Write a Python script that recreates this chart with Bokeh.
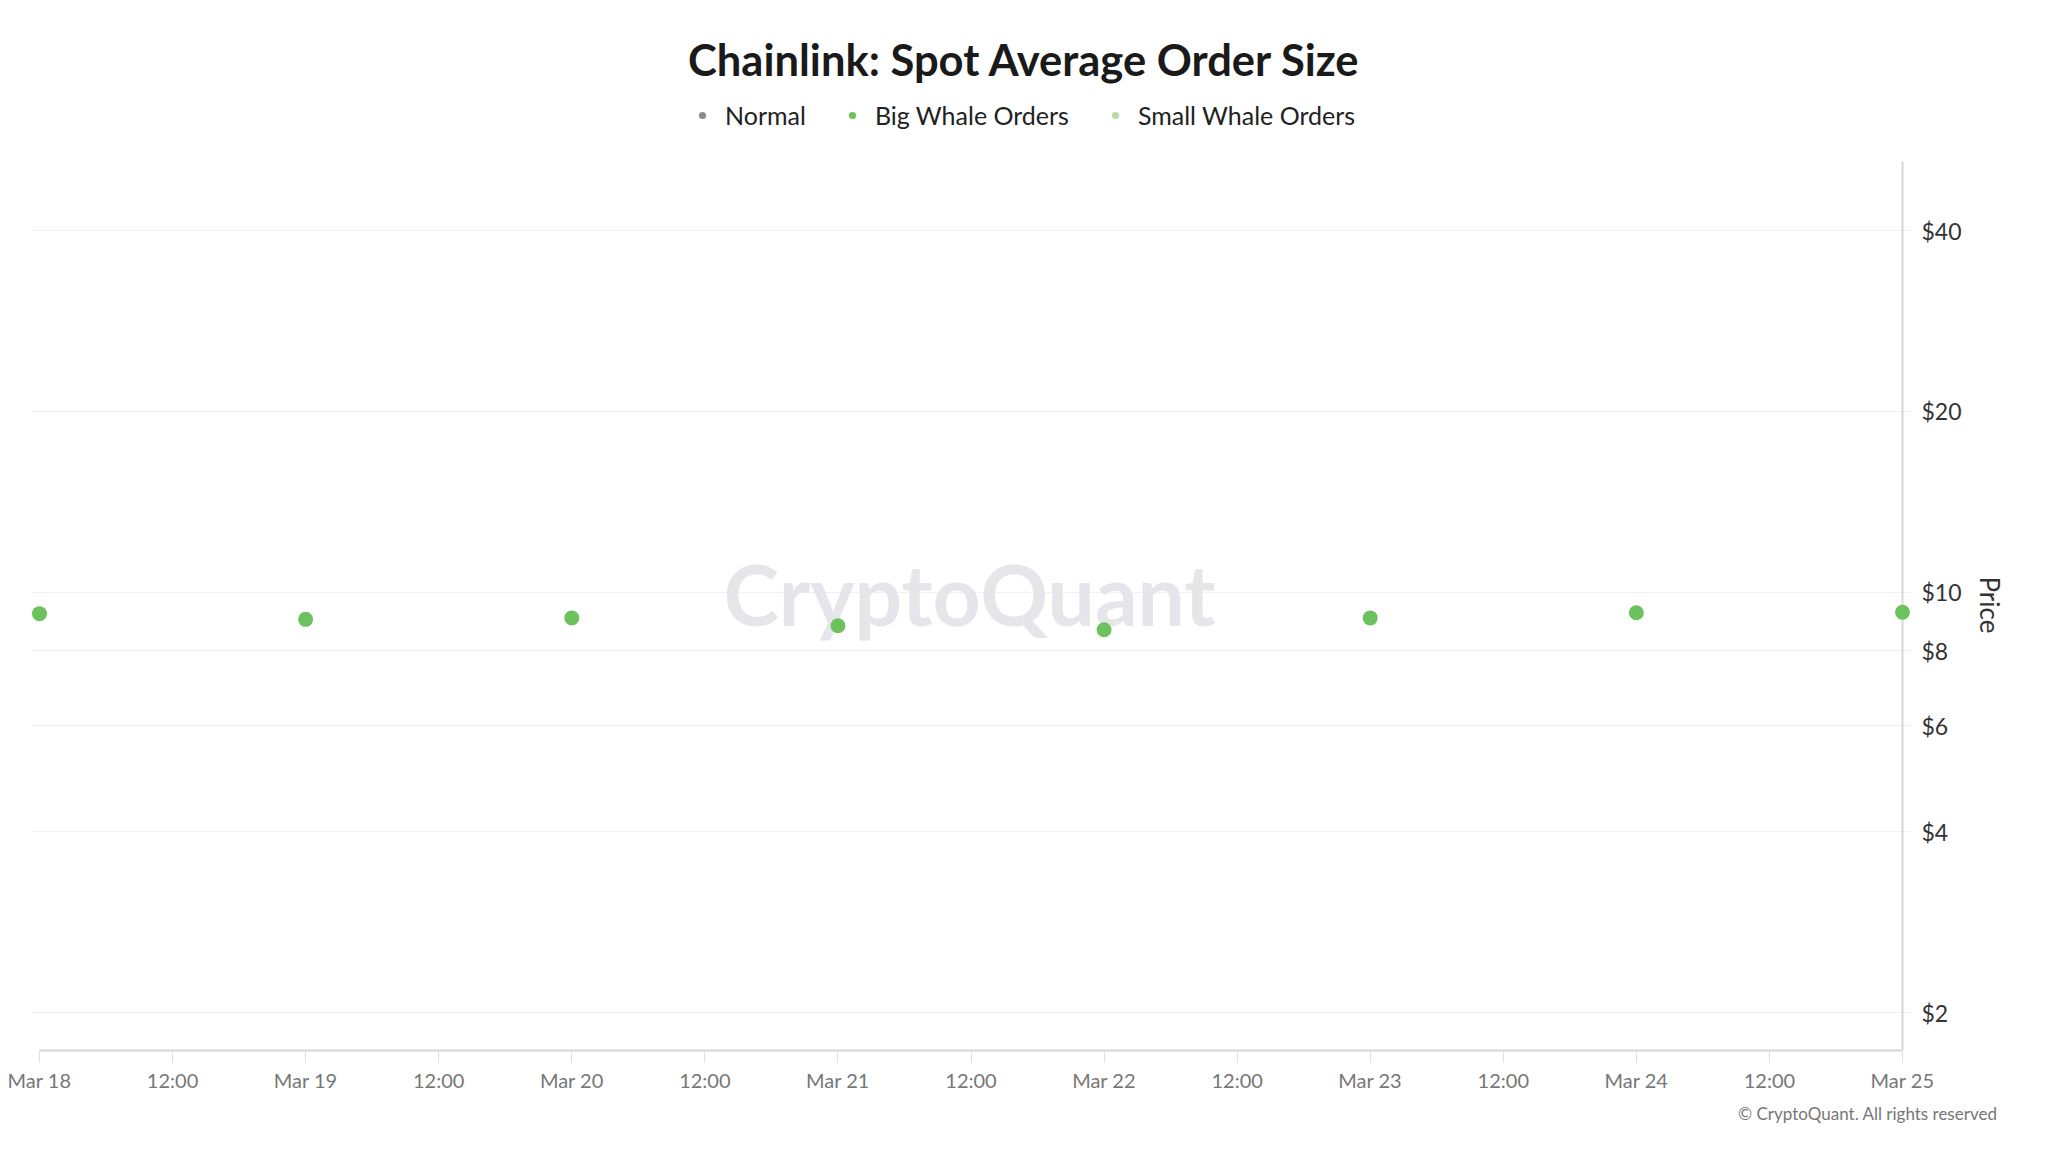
import numpy as np
import pandas as pd
from bokeh.plotting import figure
from bokeh.models import (ColumnDataSource, Range1d, FixedTicker, CustomJSTickFormatter,
                          PrintfTickFormatter, Label, Legend, LegendItem, Title)
from bokeh.embed import file_html
from bokeh.resources import INLINE

nan = np.nan

# ---- data ----
dates = ["2025-03-18", "2025-03-19", "2025-03-20", "2025-03-21",
         "2025-03-22", "2025-03-23", "2025-03-24", "2025-03-25"]
# price by order-size class (NaN = no point of that class on that day)
normal = [nan, nan, nan, nan, nan, nan, nan, nan]
big_whale = [9.22, 9.02, 9.07, 8.8, 8.67, 9.07, 9.25, 9.27]
small_whale = [nan, nan, nan, nan, nan, nan, nan, nan]
y_ticks = [2, 4, 6, 8, 10, 20, 40]
y_min, y_axis_top = 1.73, 52.1
series_names = ["Normal", "Big Whale Orders", "Small Whale Orders"]
series_colors = ["#8c8c8c", "#6cc35e", "#b4dca8"]

x = pd.to_datetime(dates)
t0 = x[0].timestamp() * 1000.0
t1 = x[-1].timestamp() * 1000.0
tick_times = [t.timestamp() * 1000.0 for t in pd.date_range(x[0], x[-1], freq="12h")]

W, H = 2032, 1136
LEFT, RIGHT, BOTTOM = 31, 122, 86
PLOT_TOP = 161            # where the visible chart area starts (page px)
frame_w = W - LEFT - RIGHT
frame_h = H - BOTTOM
px = (t1 - t0) / (frame_w - 16)
pad = 8 * px
# frame reaches the top of the page so the header can live inside it
plot_h = frame_h - PLOT_TOP
y_max = y_axis_top * (y_axis_top / y_min) ** (PLOT_TOP / plot_h)

p = figure(width=W, height=H, output_backend="svg", toolbar_location=None,
           x_axis_type="datetime", y_axis_type="log", y_axis_location="right",
           x_range=Range1d(t0 - pad, t1 + pad), y_range=Range1d(y_min, y_max),
           min_border_left=LEFT, min_border_right=RIGHT, min_border_top=0,
           min_border_bottom=BOTTOM, background_fill_color="white",
           border_fill_color="white")
p.outline_line_color = None

# grids
p.xgrid.visible = False
p.ygrid.grid_line_color = "#f0f0f0"
p.ygrid.grid_line_width = 1
p.ygrid.ticker = FixedTicker(ticks=y_ticks)

# x axis
xa = p.xaxis[0]
xa.ticker = FixedTicker(ticks=tick_times)
xa.formatter = CustomJSTickFormatter(code="""
const d = new Date(tick);
const m = ["Jan","Feb","Mar","Apr","May","Jun","Jul","Aug","Sep","Oct","Nov","Dec"];
const h = d.getUTCHours();
if (h === 0) { return m[d.getUTCMonth()] + " " + d.getUTCDate(); }
return (h < 10 ? "0" : "") + h + ":00";
""")
xa.bounds = (t0, t1)
xa.axis_line_color = "#d6d6d6"
xa.axis_line_width = 2
xa.major_tick_line_color = "#dedede"
xa.major_tick_out = 12
xa.major_tick_in = 0
xa.minor_tick_out = 0
xa.minor_tick_in = 0
xa.major_label_standoff = 5
xa.major_label_text_font = "Lato"
xa.major_label_text_font_size = "20px"
xa.major_label_text_color = "#777777"

# y axis (right)
ya = p.yaxis[0]
ya.ticker = FixedTicker(ticks=y_ticks)
ya.formatter = PrintfTickFormatter(format="$%d")
ya.axis_line_color = None
ya.major_tick_out = 0
ya.major_tick_in = 0
ya.minor_tick_out = 0
ya.minor_tick_in = 0
ya.major_label_standoff = 11
ya.major_label_text_font = "Lato"
ya.major_label_text_font_size = "23px"
ya.major_label_text_color = "#333333"

# y axis title, placed beside the chart area
p.add_layout(Title(text="Price", text_font="Lato", text_font_style="normal",
                   text_font_size="26px", text_color="#333333", align="left",
                   offset=576, vertical_align="middle", standoff=17), "right")

# right axis line at the last date, from the bottom to the top of the chart area
p.segment(x0=[t1], y0=[y_min], x1=[t1], y1=[y_axis_top],
          line_color="#d6d6d6", line_width=2)

# watermark
p.add_layout(Label(x=938, y=frame_h - 593, x_units="screen", y_units="screen",
                   text="CryptoQuant", text_font="Lato", text_font_style="bold",
                   text_font_size="84px", text_color="#e6e6ea",
                   text_align="center", text_baseline="middle", level="underlay"))

# series
src_normal = ColumnDataSource(data=dict(x=x, y=normal))
src_big = ColumnDataSource(data=dict(x=x, y=big_whale))
src_small = ColumnDataSource(data=dict(x=x, y=small_whale))
r_normal = p.scatter(x="x", y="y", source=src_normal, size=15,
                     fill_color=series_colors[0], line_color=None)
r_big = p.scatter(x="x", y="y", source=src_big, size=15,
                  fill_color=series_colors[1], line_color=None)
r_small = p.scatter(x="x", y="y", source=src_small, size=15,
                    fill_color=series_colors[2], line_color=None)

legend = Legend(items=[LegendItem(label=series_names[0], renderers=[r_normal]),
                       LegendItem(label=series_names[1], renderers=[r_big]),
                       LegendItem(label=series_names[2], renderers=[r_small])],
                orientation="horizontal", location=(662, frame_h - 115 - 15),
                glyph_width=18, glyph_height=18, label_standoff=14, spacing=37,
                padding=0, margin=0, border_line_color=None,
                background_fill_alpha=0, label_text_font="Lato",
                label_text_font_size="25px", label_text_color="#222222",
                label_height=30)
p.add_layout(legend)

# title
p.add_layout(Label(x=993, y=frame_h - 58, x_units="screen", y_units="screen",
                   text="Chainlink: Spot Average Order Size", text_font="Lato",
                   text_font_style="bold", text_font_size="43.5px",
                   text_color="#1a1a1a", text_align="center",
                   text_baseline="middle"))

# copyright
p.add_layout(Title(text="\u00a9 CryptoQuant. All rights reserved", text_font="Lato",
                   text_font_style="normal", text_font_size="17px",
                   text_color="#777777", align="right", offset=-87,
                   vertical_align="top", standoff=17), "below")

open("out.html", "w").write(file_html(p, INLINE))
